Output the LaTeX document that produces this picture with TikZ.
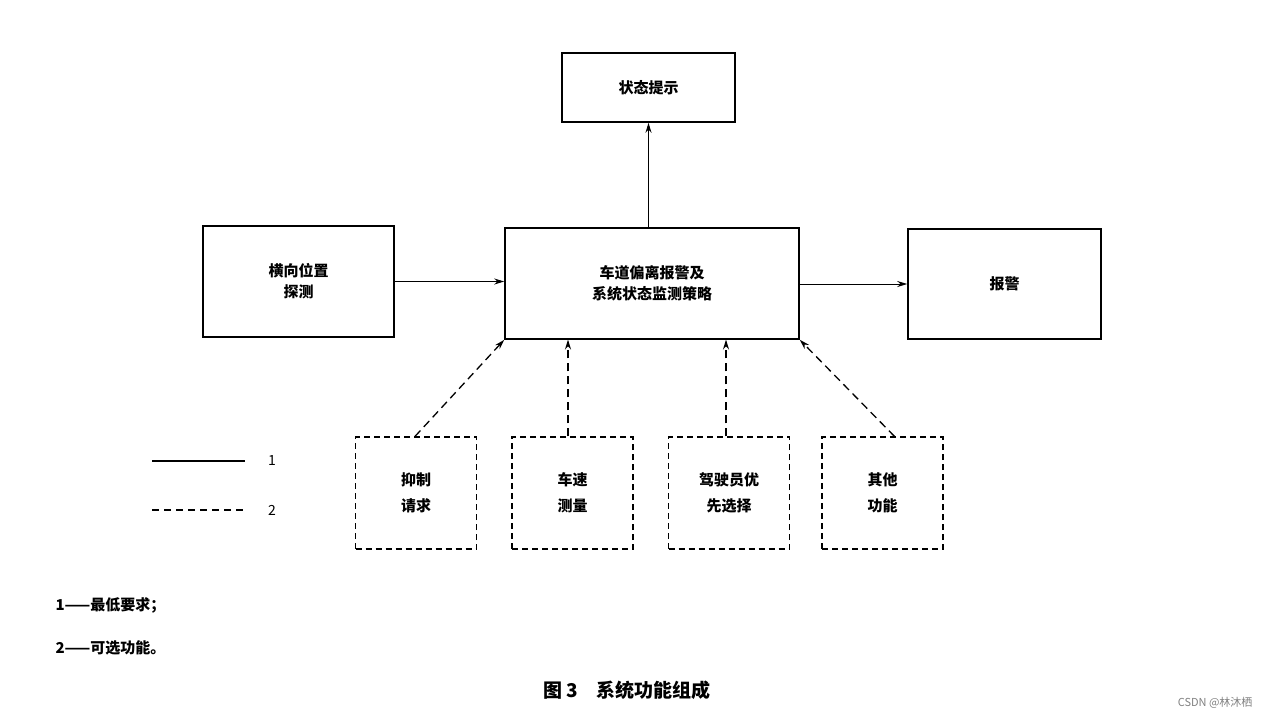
\documentclass[tikz,border=0pt]{standalone}
\usepackage{fontspec}
\setmainfont{Noto Sans CJK SC}
\usetikzlibrary{arrows.meta}
\begin{document}
\begin{tikzpicture}[x=1pt,y=-1pt,
  box/.style={draw,line width=1.6pt,minimum width=#1,align=center,font=\fontsize{15}{21}\selectfont\bfseries,inner sep=0pt},
  dbox/.style={draw,dashed,line width=1.2pt,dash pattern=on 6pt off 4pt,minimum width=121pt,minimum height=112pt,align=center,font=\fontsize{15}{26}\selectfont\bfseries},
  arr/.style={-{Stealth[length=10pt,width=6pt]},line width=0.9pt},
  darr/.style={arr,dash pattern=on 8pt off 5pt,line width=1.3pt}]
\useasboundingbox (0,0) rectangle (1269,718);
\node[box=173pt,minimum height=69pt] (st) at (648.5,87.5) {状态提示};
\node[box=191pt,minimum height=111pt] (lat) at (298.5,281.5) {横向位置\\探测};
\node[box=294pt,minimum height=111pt] (c) at (652,283.5) {车道偏离报警及\\系统状态监测策略};
\node[box=193pt,minimum height=110pt] (al) at (1004.5,284) {报警};
\node[dbox] (d1) at (416,493) {抑制\\请求};
\node[dbox] (d2) at (572.5,493) {车速\\测量};
\node[dbox] (d3) at (729,493) {驾驶员优\\先选择};
\node[dbox] (d4) at (882.5,493) {其他\\功能};
\draw[arr] (c.north -| st) -- (st.south);
\draw[arr] (lat.east) -- (c.west |- lat.east);
\draw[arr] (c.east |- al.west) -- (al.west);
\draw[darr] ([xshift=-1pt]d1.north) -- (c.south west);
\draw[darr] (d2.north -| 568,0) -- (568,339.5);
\draw[darr] (d3.north -| 726,0) -- (726,339.5);
\draw[darr] ([xshift=12pt]d4.north) -- (c.south east);
\coordinate (l1a) at (152,461); \coordinate (l1b) at (245,461);
\coordinate (l2a) at (152,510); \coordinate (l2b) at (245,510);
\draw[line width=1.2pt] (l1a) -- (l1b);
\draw[line width=1.2pt,dash pattern=on 7pt off 5pt] (l2a) -- (l2b);
\node[font=\fontsize{14}{16}\selectfont] (n1) at (272,461) {1};
\node[font=\fontsize{14}{16}\selectfont] (n2) at (272,510) {2};
\node[anchor=west,font=\fontsize{15}{18}\selectfont\bfseries] (t1) at (52,605) {1——最低要求；};
\node[anchor=west,font=\fontsize{15}{18}\selectfont\bfseries] (t2) at (52,648) {2——可选功能。};
\node[font=\fontsize{19}{22}\selectfont\bfseries] (cap) at (627,690) {图 3\quad 系统功能组成};
\node[anchor=east,font=\fontsize{11}{13}\selectfont,text=gray] (csdn) at (1256,703) {CSDN @林沐栖};
\end{tikzpicture}
\end{document}
